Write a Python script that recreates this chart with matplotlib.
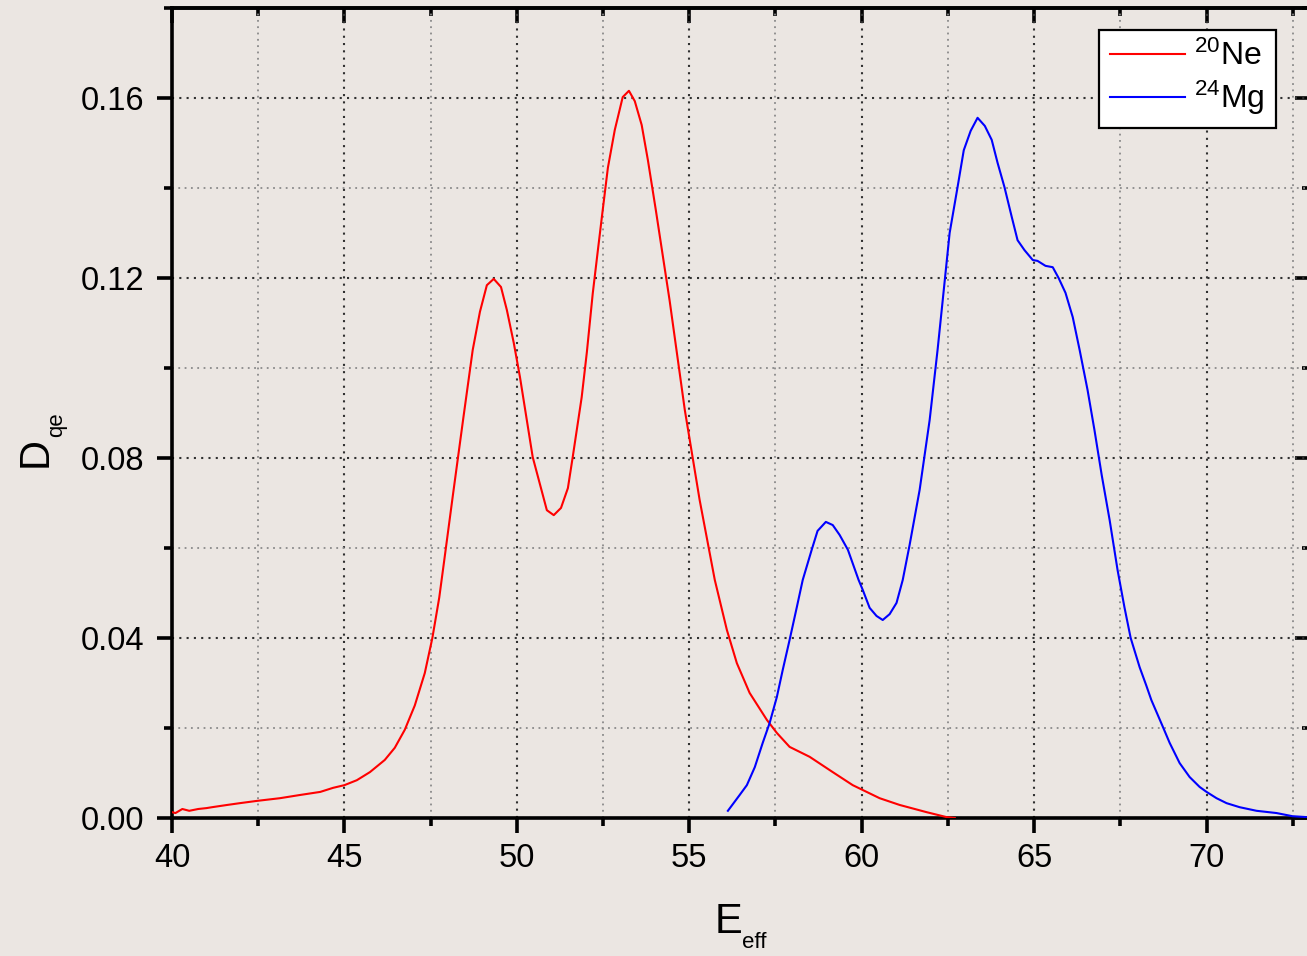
import matplotlib
matplotlib.use("Agg")
import matplotlib.pyplot as plt
from matplotlib.ticker import MultipleLocator, FormatStrFormatter, NullFormatter

plt.rcParams['font.family'] = ['Liberation Sans', 'DejaVu Sans']
plt.rcParams['mathtext.fontset'] = 'custom'
plt.rcParams['mathtext.rm'] = 'Liberation Sans'
plt.rcParams['mathtext.it'] = 'Liberation Sans'
plt.rcParams['mathtext.default'] = 'regular'

# ---- data ----
ne_E = [40.0, 40.1, 40.3, 40.5, 40.76, 41.0, 41.16, 41.6, 41.97, 42.46, 43.13, 43.7, 44.3,
        44.67, 45.0, 45.36, 45.74, 46.17, 46.46, 46.75, 47.04, 47.33, 47.55, 47.75, 47.89,
        48.15, 48.45, 48.72, 48.93, 49.13, 49.33, 49.54, 49.71, 49.91, 50.09, 50.46, 50.70,
        50.87, 51.07, 51.28, 51.48, 51.62, 51.88, 52.03, 52.20, 52.35, 52.49, 52.64, 52.84,
        53.07, 53.25, 53.42, 53.62, 53.80, 54.03, 54.43, 54.87, 55.30, 55.74, 56.09, 56.38,
        56.75, 57.25, 57.54, 57.91, 58.49, 59.16, 59.74, 60.52, 61.10, 61.88, 62.46, 62.70]
ne_D = [0.0013, 0.0011, 0.0020, 0.0016, 0.0020, 0.0022, 0.0024, 0.0029, 0.0033, 0.0038,
        0.0044, 0.0051, 0.0058, 0.0067, 0.0073, 0.0084, 0.0102, 0.0129, 0.0156, 0.0196,
        0.0250, 0.0322, 0.0400, 0.0490, 0.0570, 0.0720, 0.0890, 0.1040, 0.1125, 0.1184,
        0.1198, 0.1180, 0.1129, 0.1056, 0.0980, 0.0802, 0.0733, 0.0684, 0.0673, 0.0689,
        0.0733, 0.0802, 0.0935, 0.1035, 0.1165, 0.1262, 0.1351, 0.1445, 0.1529, 0.1602,
        0.1616, 0.1593, 0.1540, 0.1462, 0.1351, 0.1150, 0.0907, 0.0707, 0.0529, 0.0418,
        0.0344, 0.0278, 0.0218, 0.0189, 0.0158, 0.0136, 0.0102, 0.0073, 0.0044, 0.0029,
        0.0013, 0.0002, 0.0000]

mg_E = [56.12, 56.46, 56.67, 56.90, 57.13, 57.33, 57.54, 57.71, 57.91, 58.12, 58.29, 58.55,
        58.72, 58.96, 59.16, 59.36, 59.60, 59.91, 60.03, 60.23, 60.43, 60.61, 60.81, 61.01,
        61.19, 61.39, 61.68, 61.97, 62.20, 62.35, 62.55, 62.78, 62.96, 63.16, 63.36, 63.57,
        63.77, 63.94, 64.14, 64.35, 64.52, 64.72, 64.96, 65.10, 65.33, 65.54, 65.71, 65.91,
        66.12, 66.32, 66.55, 66.75, 66.96, 67.19, 67.42, 67.62, 67.80, 68.06, 68.25, 68.40,
        68.72, 68.93, 69.22, 69.51, 69.80, 70.00, 70.29, 70.58, 70.96, 71.45, 72.03, 72.49,
        72.90]
mg_D = [0.0016, 0.0051, 0.0073, 0.0113, 0.0167, 0.0211, 0.0269, 0.0329, 0.0396, 0.0469,
        0.0529, 0.0596, 0.0638, 0.0658, 0.0651, 0.0629, 0.0596, 0.0529, 0.0507, 0.0467,
        0.0449, 0.0440, 0.0453, 0.0478, 0.0529, 0.0607, 0.0729, 0.0884, 0.1040, 0.1151,
        0.1300, 0.1402, 0.1484, 0.1527, 0.1556, 0.1538, 0.1507, 0.1456, 0.1402, 0.1336,
        0.1284, 0.1262, 0.1240, 0.1238, 0.1227, 0.1224, 0.1200, 0.1167, 0.1113, 0.1040,
        0.0951, 0.0862, 0.0762, 0.0662, 0.0551, 0.0468, 0.0400, 0.0335, 0.0295, 0.0262,
        0.0205, 0.0167, 0.0122, 0.0091, 0.0069, 0.0058, 0.0044, 0.0033, 0.0024, 0.0016,
        0.0011, 0.0004, 0.0002]

series_labels = [r'$^{20}$Ne', r'$^{24}$Mg']
series_colors = ['#ff0000', '#0000ff']

# ---- figure ----
W, H = 1307, 956
bg = '#ebe6e2'
fig = plt.figure(figsize=(W / 100, H / 100), dpi=100, facecolor=bg)
x0, x1, y0, y1 = 172, 1310, 818, 8
ax = fig.add_axes([x0 / W, 1 - y0 / H, (x1 - x0) / W, (y0 - y1) / H])
ax.set_facecolor(bg)

ax.plot(ne_E, ne_D, color=series_colors[0], lw=1.5, label=series_labels[0], zorder=3)
ax.plot(mg_E, mg_D, color=series_colors[1], lw=1.5, label=series_labels[1], zorder=3)

ax.set_xlim(40, 73)
ax.set_ylim(0, 0.18)
ax.xaxis.set_major_locator(MultipleLocator(5))
ax.xaxis.set_minor_locator(MultipleLocator(2.5))
ax.yaxis.set_major_locator(MultipleLocator(0.04))
ax.yaxis.set_minor_locator(MultipleLocator(0.02))
ax.yaxis.set_major_formatter(FormatStrFormatter('%.2f'))

ax.grid(True, which='major', linestyle=(0, (1, 2.5)), color='#303030', lw=1.5, zorder=1)
ax.grid(True, which='minor', linestyle=(0, (1, 2.5)), color='#8a8a8a', lw=1.3, zorder=1)

for s in ax.spines.values():
    s.set_linewidth(2.6)
    s.set_color('black')

ax.tick_params(axis='both', which='major', direction='out', length=11, width=2.6,
               labelsize=23.5, color='black')
ax.tick_params(axis='both', which='minor', direction='out', length=6, width=2.6)
ax.tick_params(axis='x', which='major', pad=7)
ax.tick_params(axis='y', which='major', pad=9)

# top / right axes with inward ticks, no labels
secx = ax.secondary_xaxis('top')
secx.xaxis.set_major_locator(MultipleLocator(5))
secx.xaxis.set_minor_locator(MultipleLocator(2.5))
secx.xaxis.set_major_formatter(NullFormatter())
secx.tick_params(which='major', direction='in', length=11, width=2.6)
secx.tick_params(which='minor', direction='in', length=6, width=2.6)
secx.spines['top'].set_linewidth(2.6)

secy = ax.secondary_yaxis('right')
secy.yaxis.set_major_locator(MultipleLocator(0.04))
secy.yaxis.set_minor_locator(MultipleLocator(0.02))
secy.yaxis.set_major_formatter(NullFormatter())
secy.tick_params(which='major', direction='in', length=11, width=2.6)
secy.tick_params(which='minor', direction='in', length=6, width=2.6)
secy.spines['right'].set_linewidth(2.6)

# axis labels
ax.set_xlabel('E', fontsize=30)
ax.xaxis.set_label_coords((728 - x0) / (x1 - x0), (y0 - 902) / (y0 - y1))
fig.text(742 / W, 1 - 948 / H, 'eff', fontsize=16, ha='left', va='baseline')

ax.set_ylabel('D', fontsize=30)
ax.yaxis.set_label_coords((56 - x0) / (x1 - x0), (y0 - 452) / (y0 - y1))
fig.text(57 / W, 1 - 425 / H, 'qe', fontsize=16, rotation=90, ha='center', va='center')

leg = ax.legend(loc='upper right',
                bbox_to_anchor=((1276 - x0) / (x1 - x0), (y0 - 30) / (y0 - y1)),
                fontsize=23, frameon=True, fancybox=False, framealpha=1,
                facecolor='white', edgecolor='black', borderaxespad=0,
                handlelength=2.35, handletextpad=0.3, labelspacing=0.2, borderpad=0.35)
leg.get_frame().set_linewidth(1.6)
leg.set_zorder(5)

fig.savefig('out.png', dpi=100, facecolor=bg)
